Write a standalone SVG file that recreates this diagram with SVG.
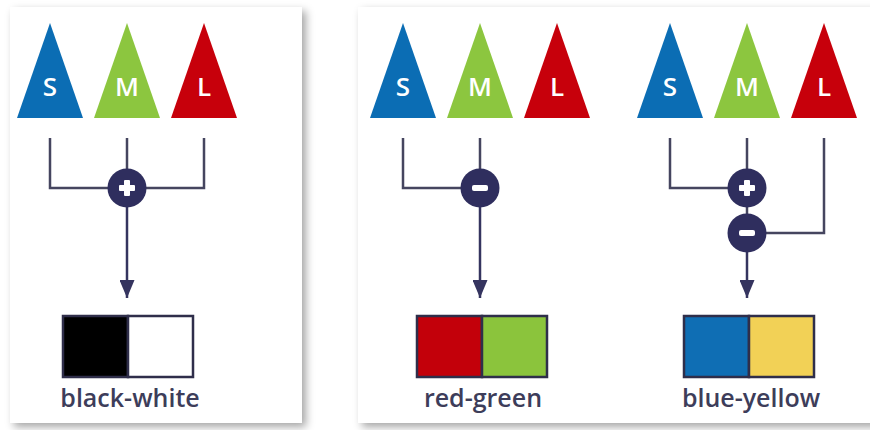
<svg xmlns="http://www.w3.org/2000/svg" width="870" height="430" viewBox="0 0 870 430">
  <defs>
    <filter id="shadow" x="-10%" y="-10%" width="125%" height="125%">
      <feDropShadow dx="4" dy="4" stdDeviation="4" flood-color="#000" flood-opacity="0.35"/>
    </filter>
    <marker id="arrow" viewBox="0 0 18 15" refX="18" refY="7.5" markerWidth="18" markerHeight="15" markerUnits="userSpaceOnUse" orient="auto">
      <path d="M0,0 L18,7.5 L0,15 Z" fill="#35345f"/>
    </marker>
  </defs>
  <style>
    .panel { fill: #ffffff; filter: url(#shadow); }
    .cone-letter { font-family: "Open Sans", "Liberation Sans", sans-serif; font-weight: 600; font-size: 26px; fill: #ffffff; text-anchor: middle; }
    .s { fill: #0b6db4; }
    .m { fill: #8cc63f; }
    .l { fill: #c7000b; }
    .wire { fill: none; stroke: #45455f; stroke-width: 2.5; }
    .arrowline { fill: none; stroke: #35345f; stroke-width: 2.5; marker-end: url(#arrow); }
    .op { fill: #2f2e5e; }
    .sign { fill: #ffffff; }
    .box { stroke: #2f2e4a; stroke-width: 2.5; }
    .label { font-family: "Open Sans", "Liberation Sans", sans-serif; font-weight: 600; font-size: 25px; fill: #3d3d5a; text-anchor: middle; }
  </style>
  <rect width="870" height="430" fill="#ffffff"/>
  <rect class="panel" x="10" y="7" width="292" height="416"/>
  <rect class="panel" x="358" y="7" width="530" height="416"/>

  <g id="cones-bw">
    <polygon class="s" points="50,23 17,118 83,118"/>
    <text class="cone-letter" x="50" y="96">S</text>
    <polygon class="m" points="127,23 94,118 160,118"/>
    <text class="cone-letter" x="127" y="96">M</text>
    <polygon class="l" points="204,23 171,118 237,118"/>
    <text class="cone-letter" x="204" y="96">L</text>
  </g>
  <g id="cones-rg">
    <polygon class="s" points="403,23 370,118 436,118"/>
    <text class="cone-letter" x="403" y="96">S</text>
    <polygon class="m" points="480,23 447,118 513,118"/>
    <text class="cone-letter" x="480" y="96">M</text>
    <polygon class="l" points="557,23 524,118 590,118"/>
    <text class="cone-letter" x="557" y="96">L</text>
  </g>
  <g id="cones-by">
    <polygon class="s" points="670,23 637,118 703,118"/>
    <text class="cone-letter" x="670" y="96">S</text>
    <polygon class="m" points="747,23 714,118 780,118"/>
    <text class="cone-letter" x="747" y="96">M</text>
    <polygon class="l" points="824,23 791,118 857,118"/>
    <text class="cone-letter" x="824" y="96">L</text>
  </g>

  <g id="connectors">
    <path class="wire" d="M50,138 V188 H110"/>
    <path class="wire" d="M204,138 V188 H144"/>
    <path class="wire" d="M127,138 V172"/>
    <path class="arrowline" d="M127,204 V298"/>

    <path class="wire" d="M403,138 V188 H463"/>
    <path class="wire" d="M480,138 V172"/>
    <path class="arrowline" d="M480,204 V298"/>

    <path class="wire" d="M670,138 V188 H730"/>
    <path class="wire" d="M747,138 V172"/>
    <path class="wire" d="M747,204 V217"/>
    <path class="wire" d="M824,138 V233 H764"/>
    <path class="arrowline" d="M747,249 V298"/>
  </g>

  <g id="plus-bw">
    <circle class="op" cx="127" cy="188" r="19.5"/>
    <rect class="sign" x="119" y="185" width="16" height="6" rx="1"/>
    <rect class="sign" x="124" y="180" width="6" height="16" rx="1"/>
  </g>
  <g id="minus-rg">
    <circle class="op" cx="480" cy="188" r="19.5"/>
    <rect class="sign" x="472" y="185" width="16" height="6" rx="2"/>
  </g>
  <g id="plus-by">
    <circle class="op" cx="747" cy="188" r="19.5"/>
    <rect class="sign" x="739" y="185" width="16" height="6" rx="1"/>
    <rect class="sign" x="744" y="180" width="6" height="16" rx="1"/>
  </g>
  <g id="minus-by">
    <circle class="op" cx="747" cy="233" r="19.5"/>
    <rect class="sign" x="739" y="230" width="16" height="6" rx="2"/>
  </g>

  <g id="box-bw">
    <rect class="box" x="63" y="316" width="65" height="61" fill="#000000"/>
    <rect class="box" x="128" y="316" width="65" height="61" fill="#ffffff"/>
    <text class="label" x="130" y="407">black-white</text>
  </g>
  <g id="box-rg">
    <rect class="box" x="417" y="316" width="65" height="61" fill="#c3000a"/>
    <rect class="box" x="482" y="316" width="65" height="61" fill="#8bc43c"/>
    <text class="label" x="483" y="407">red-green</text>
  </g>
  <g id="box-by">
    <rect class="box" x="684" y="316" width="65" height="61" fill="#0f6eb4"/>
    <rect class="box" x="749" y="316" width="65" height="61" fill="#f2d156"/>
    <text class="label" x="751" y="407">blue-yellow</text>
  </g>
</svg>
